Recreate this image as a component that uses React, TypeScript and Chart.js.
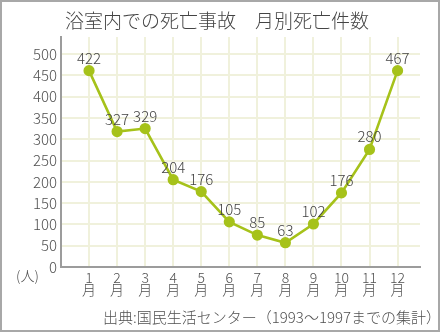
import React, { useEffect, useRef } from "react";
import { Chart, registerables } from "chart.js";

Chart.register(...registerables);

const months = [1, 2, 3, 4, 5, 6, 7, 8, 9, 10, 11, 12];
// values printed above each point
const deathLabels = [422, 327, 329, 204, 176, 105, 85, 63, 102, 176, 280, 467];
// values where the points actually sit in the picture
const plottedCounts = [461, 318, 325, 205, 177, 106, 75, 57, 101, 174, 276, 461];
const yTicks = [0, 50, 100, 150, 200, 250, 300, 350, 400, 450, 500];

const TITLE = "浴室内での死亡事故　月別死亡件数";
const SOURCE = "出典:国民生活センター（1993～1997までの集計）";
const UNIT = "(人)";

const FONT = '"Noto Sans CJK JP", "Noto Sans", sans-serif';
const LINE_COLOR = "#a6c21a";
const GRID_COLOR = "#f0f1dc";
const AXIS_COLOR = "#9c9c9c";
const TEXT_COLOR = "#505050";

const valueLabelPlugin = {
  id: "valueLabels",
  afterDatasetsDraw(chart: any) {
    const meta = chart.getDatasetMeta(0);
    const ctx = chart.ctx;
    ctx.save();
    ctx.font = `300 15px ${FONT}`;
    ctx.fillStyle = "#444";
    ctx.textAlign = "center";
    ctx.textBaseline = "alphabetic";
    meta.data.forEach((pt: any, i: number) => {
      ctx.fillText(String(deathLabels[i]), pt.x, pt.y - 7);
    });
    ctx.restore();
  },
};

export default function App() {
  const ref = useRef<HTMLCanvasElement>(null);
  useEffect(() => {
    if (!ref.current) return;
    const chart = new Chart(ref.current, {
      type: "line",
      data: {
        datasets: [
          {
            data: months.map((m, i) => ({ x: m, y: plottedCounts[i] })),
            borderColor: LINE_COLOR,
            backgroundColor: LINE_COLOR,
            pointBackgroundColor: LINE_COLOR,
            pointBorderColor: LINE_COLOR,
            borderWidth: 2.6,
            pointRadius: 4.3,
            tension: 0,
          },
        ],
      },
      options: {
        responsive: false,
        animation: false,
        events: [],
        layout: { padding: { left: 0, right: 20, top: 37, bottom: 20 } },
        plugins: {
          legend: { display: false },
          tooltip: { enabled: false },
          title: { display: false },
        },
        scales: {
          x: {
            type: "linear",
            min: 0,
            max: 12.8,
            afterBuildTicks: (scale: any) => {
              scale.ticks = months.map((m) => ({ value: m }));
            },
            afterFit: (scale: any) => {
              scale.height = 45;
            },
            grid: { color: GRID_COLOR, lineWidth: 2, drawTicks: false },
            border: { display: true, color: AXIS_COLOR, width: 2 },
            ticks: {
              autoSkip: false,
              maxRotation: 0,
              padding: 4,
              color: TEXT_COLOR,
              font: { family: FONT, size: 14, lineHeight: 0.9, weight: "300" as any },
              callback: (v: any) => [String(v), "月"],
            },
          },
          y: {
            type: "linear",
            min: 0,
            max: 540,
            afterBuildTicks: (scale: any) => {
              scale.ticks = yTicks.map((v) => ({ value: v }));
            },
            afterFit: (scale: any) => {
              scale.width = 61;
            },
            grid: { color: GRID_COLOR, lineWidth: 2, drawTicks: false },
            border: { display: true, color: AXIS_COLOR, width: 2 },
            ticks: {
              padding: 4,
              color: TEXT_COLOR,
              font: { family: FONT, size: 15, weight: "300" as any },
            },
          },
        },
      },
      plugins: [valueLabelPlugin],
    });
    return () => chart.destroy();
  }, []);

  return (
    <div
      style={{
        position: "fixed",
        left: 0,
        top: 0,
        width: 440,
        height: 332,
        background: "#fff",
        fontFamily: FONT,
        color: TEXT_COLOR,
      }}
    >
      <canvas ref={ref} width={440} height={332} style={{ position: "absolute", left: 0, top: 0 }} />
      <div
        style={{
          position: "absolute",
          left: 0,
          top: 10,
          width: 434,
          textAlign: "center",
          fontSize: 19,
          lineHeight: "19px",
          fontWeight: 300,
          color: "#444",
          whiteSpace: "nowrap",
        }}
      >
        {TITLE}
      </div>
      <div
        style={{
          position: "absolute",
          left: 16,
          top: 268,
          fontSize: 14,
          lineHeight: "14px",
          fontWeight: 300,
          whiteSpace: "nowrap",
        }}
      >
        {UNIT}
      </div>
      <div
        style={{
          position: "absolute",
          right: -1,
          top: 309,
          fontSize: 15,
          lineHeight: "15px",
          fontWeight: 300,
          whiteSpace: "nowrap",
        }}
      >
        {SOURCE}
      </div>
      <div
        style={{
          position: "absolute",
          left: 0,
          top: 0,
          width: 440,
          height: 332,
          boxSizing: "border-box",
          border: "2px solid #a8a8a8",
          pointerEvents: "none",
        }}
      />
    </div>
  );
}
